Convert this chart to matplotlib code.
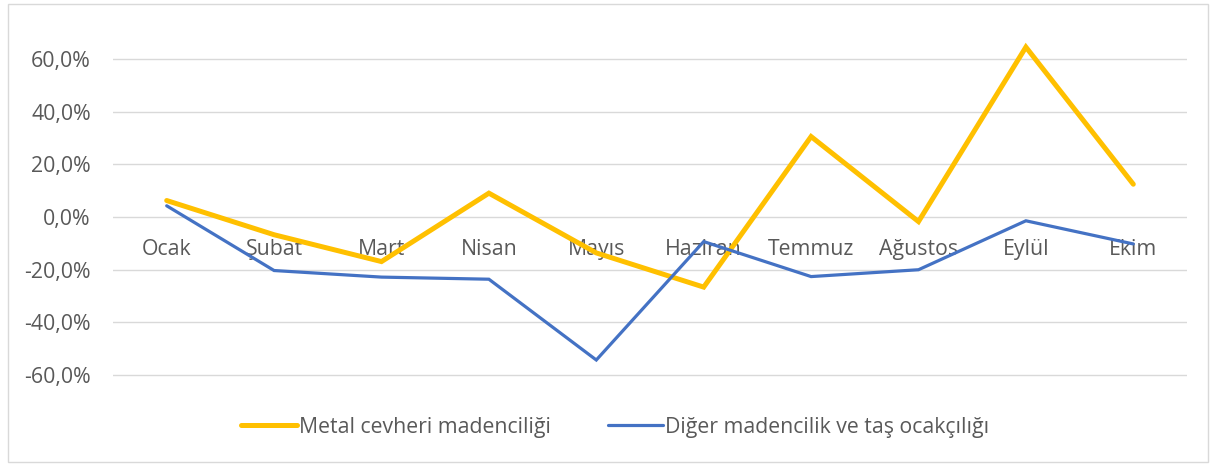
import matplotlib
matplotlib.use("Agg")
import matplotlib.pyplot as plt
from matplotlib.patches import Rectangle
from matplotlib.ticker import FuncFormatter

months = ["Ocak", "Şubat", "Mart", "Nisan", "Mayıs", "Haziran", "Temmuz", "Ağustos", "Eylül", "Ekim"]
metal = [0.063, -0.067, -0.169, 0.091, -0.136, -0.266, 0.306, -0.017, 0.646, 0.125]
diger = [0.043, -0.203, -0.228, -0.236, -0.543, -0.093, -0.226, -0.200, -0.014, -0.102]
yticks = [-0.6, -0.4, -0.2, 0.0, 0.2, 0.4, 0.6]
series_names = ["Metal cevheri madenciliği", "Diğer madencilik ve taş ocakçılığı"]

plt.rcParams['font.family'] = ['Open Sans', 'DejaVu Sans']
txt = '#595959'
fs = 15.3

fig = plt.figure(figsize=(12.17, 4.66), dpi=100)
fig.patches.append(Rectangle((8/1217, 4/466), 1200/1217, 458/466, transform=fig.transFigure,
                             fill=False, edgecolor='#D9D9D9', linewidth=1.0))
ax = fig.add_axes([113/1217, 1-385/466, (1187-113)/1217, (385-20)/466])

x = list(range(len(months)))
ax.plot(x, metal, color='#FFC000', linewidth=3.6, solid_capstyle='round', solid_joinstyle='miter', label=series_names[0], zorder=3)
ax.plot(x, diger, color='#4472C4', linewidth=2.3, solid_capstyle='round', solid_joinstyle='miter', label=series_names[1], zorder=3)

ax.set_xlim(-0.5, 9.5)
ax.set_ylim(-0.638, 0.749)
ax.set_yticks(yticks)
ax.yaxis.set_major_formatter(FuncFormatter(lambda v, p: f"{v*100:.1f}%".replace('.', ',')))
ax.grid(axis='y', color='#D9D9D9', linewidth=1.0)
ax.set_axisbelow(True)
for s in ['top', 'right', 'left']:
    ax.spines[s].set_visible(False)
ax.spines['bottom'].set_position(('data', 0))
ax.spines['bottom'].set_visible(False)
ax.set_xticks(x)
ax.set_xticklabels(months)
ax.tick_params(axis='x', length=0, pad=16, labelsize=fs, labelcolor=txt)
ax.tick_params(axis='y', length=0, pad=16, labelsize=fs, labelcolor=txt)

fig.legend(loc='center', bbox_to_anchor=(615.5/1217, 1-427/466), ncol=2, frameon=False,
           fontsize=fs, labelcolor=txt, handlelength=2.6, handletextpad=0.1, columnspacing=2.7)

fig.savefig('out.png', dpi=100)
